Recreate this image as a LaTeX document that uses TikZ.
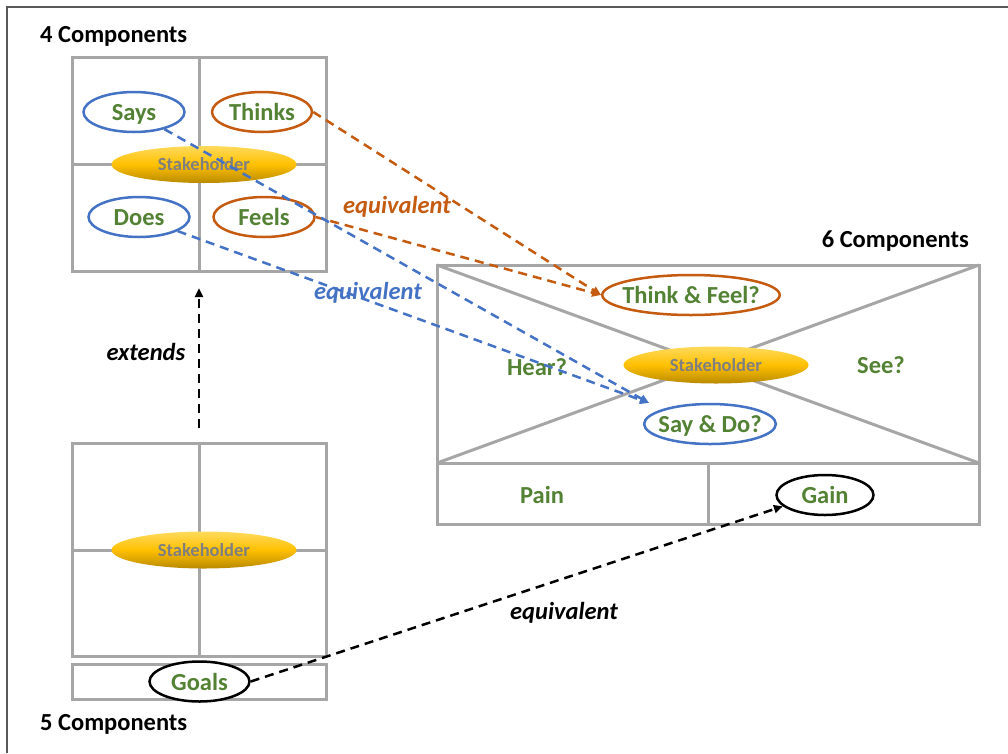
\documentclass[tikz,border=0pt]{standalone}
\usepackage{fontspec}
\setmainfont{Carlito}
\usetikzlibrary{shapes.geometric,arrows.meta}
\definecolor{tgreen}{HTML}{548235}
\definecolor{torange}{HTML}{C55A11}
\definecolor{tblue}{HTML}{4472C4}
\definecolor{tgray}{HTML}{A6A6A6}
\definecolor{sgray}{HTML}{7F7F7F}
\definecolor{framec}{HTML}{595959}
\definecolor{goldtop}{HTML}{FFDA5C}
\definecolor{goldmid}{HTML}{FFC000}
\definecolor{goldbot}{HTML}{B88A00}
\newcommand\labfont{\fontsize{24.5}{28}\selectfont\bfseries}
\newcommand\stkfont{\fontsize{18.5}{22}\selectfont\bfseries}
\tikzset{
  gridline/.style={draw=tgray,line width=3pt},
  stake/.style={ellipse,draw=none,inner sep=0pt,minimum width=185pt,minimum height=37pt,
    text height=15pt,text depth=3pt,
    top color=goldtop,bottom color=goldbot,middle color=goldmid,text=sgray,font=\stkfont},
  oval/.style={ellipse,draw=#1,line width=2.5pt,fill=white,inner sep=0pt,
    text height=20pt,text depth=3pt,
    minimum height=40pt,text=tgreen,font=\labfont},
  plain/.style={text=tgreen,font=\labfont,inner sep=0pt,text height=20pt,text depth=3pt},
  title/.style={font=\labfont,text=black,inner sep=0pt},
  eqlabel/.style={font=\labfont\itshape,inner sep=0pt},
  conn/.style={line width=2.5pt,dash pattern=on 9pt off 6pt,-{Triangle[length=9pt,width=8pt]}}
}
\begin{document}
\begin{tikzpicture}[x=1pt,y=-1pt]
\useasboundingbox (0,0) rectangle (1008,753);
% outer frame
\draw[framec,line width=1.5pt] (7,753) -- (7,7) -- (1008,7);

% ---- 4 components
\node[title,anchor=west] (t4) at (40,36) {4 Components};
\draw[gridline] (72,57) rectangle (326,271);
\draw[gridline] (199,57) -- (199,271);
\draw[gridline] (72,164) -- (326,164);
\node[stake] (s4) at (204,164.5) {Stakeholder};
\node[oval=tblue,minimum width=101pt] (says) at (134,112) {Says};
\node[oval=torange,minimum width=100pt] (thinks) at (262,112) {Thinks};
\node[oval=tblue,minimum width=101pt] (does) at (139,217) {Does};
\node[oval=torange,minimum width=101pt] (feels) at (264,217) {Feels};

% ---- 5 components
\draw[gridline] (72,443) rectangle (326,656);
\draw[gridline] (199,443) -- (199,656);
\draw[gridline] (72,550) -- (326,550);
\node[stake] (s5) at (204,550) {Stakeholder};
\draw[gridline] (72,664) rectangle (326,699);
\node[oval=black,minimum width=100pt] (goals) at (199.5,681.5) {Goals};
\node[title,anchor=west] (t5) at (40,724) {5 Components};

% ---- 6 components
\node[title,anchor=east] (t6) at (969,241) {6 Components};
\draw[gridline] (437,265) rectangle (979,524);
\draw[gridline] (437,463) -- (979,463);
\draw[gridline] (708,463) -- (708,524);
\draw[gridline] (437,265) -- (979,463);
\draw[gridline] (979,265) -- (437,463);
\node[stake] (s6) at (716,365) {Stakeholder};
\node[oval=torange,minimum width=173pt,inner xsep=-6pt] (tf) at (691,295) {Think \& Feel?};
\node[oval=tblue,minimum width=130pt,inner xsep=-5pt] (sd) at (710,424) {Say \& Do?};
\node[plain] (hear) at (537,367) {Hear?};
\node[plain] (see) at (881,365) {See?};
\node[plain] (pain) at (542,495) {Pain};
\node[oval=black,minimum width=97pt] (gain) at (825,495) {Gain};

% ---- connectors
\coordinate (sdin) at (649,403);
\coordinate (extA) at (199,428);
\coordinate (extB) at (199,288);
\draw[conn,torange] (thinks.east) -- (tf.west);
\draw[conn,torange] (feels.east) -- (tf.west);
\draw[conn,tblue] (says) -- (sdin);
\draw[conn,tblue] (does) -- (sdin);
\draw[conn,black] (goals.east) -- (gain.195);
\draw[conn,black] (extA) -- (extB);

\node[eqlabel,text=torange] (eq1) at (397,207) {equivalent};
\node[eqlabel,text=tblue] (eq2) at (368,293) {equivalent};
\node[eqlabel,text=black] (eq3) at (564,613) {equivalent};
\node[eqlabel,text=black] (ext) at (146,352) {extends};
\end{tikzpicture}
\end{document}
